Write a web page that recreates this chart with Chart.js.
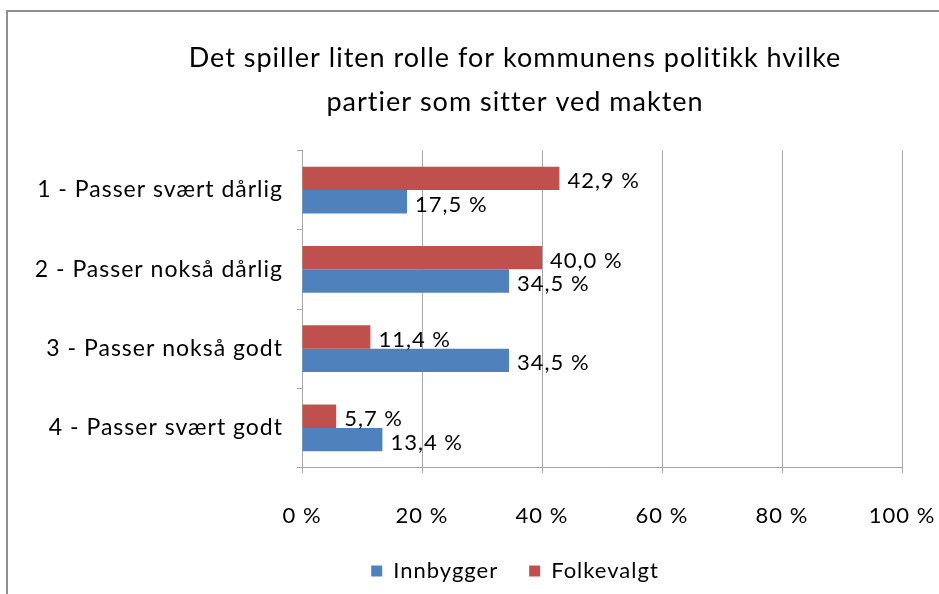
<!DOCTYPE html>
<html>
<head>
<meta charset="utf-8">
<script src="https://cdn.jsdelivr.net/npm/chart.js@4.4.1/dist/chart.umd.min.js"></script>
<style>
    html, body { margin: 0; padding: 0; background: #fff; overflow: hidden; }
    .frame {
        position: absolute;
        left: 6px;
        top: 10px;
        width: 1040px;
        height: 620px;
        border: 2px solid #8f8f8f;
    }
    .chart-box {
        position: relative;
        width: 1014px;
        height: 600px;
    }
</style>
</head>
<body>
<div class="frame">
    <div class="chart-box"><canvas id="surveyChart"></canvas></div>
</div>
<script>
// Data
const categories = ['1 - Passer svært dårlig', '2 - Passer nokså dårlig', '3 - Passer nokså godt', '4 - Passer svært godt'];
const innbygger = [17.5, 34.5, 34.5, 13.4];
const folkevalgt = [42.9, 40.0, 11.4, 5.7];
const xTicks = [0, 20, 40, 60, 80, 100];

const FONT = 'Lato, "Open Sans", sans-serif';

// Slightly wider letter spacing, like the original rendering
const spacing = {
    id: 'spacing',
    beforeLayout(chart) { chart.ctx.letterSpacing = '1px'; },
    beforeDraw(chart) { chart.ctx.letterSpacing = '1px'; }
};

// Value labels next to the bars
const valueLabels = {
    id: 'valueLabels',
    afterDatasetsDraw(chart) {
        const ctx = chart.ctx;
        ctx.save();
        ctx.font = '22px ' + FONT;
        ctx.fillStyle = '#000';
        ctx.textAlign = 'left';
        ctx.textBaseline = 'middle';
        chart.data.datasets.forEach((ds, i) => {
            chart.getDatasetMeta(i).data.forEach((bar, j) => {
                const txt = ds.data[j].toFixed(1).replace('.', ',') + ' %';
                ctx.fillText(txt, bar.x + 8, bar.y + 3);
            });
        });
        ctx.restore();
    }
};

const ctx = document.getElementById('surveyChart').getContext('2d');
const chart = new Chart(ctx, {
    type: 'bar',
    data: {
        labels: categories,
        datasets: [
            {
                label: 'Folkevalgt',
                data: folkevalgt,
                backgroundColor: '#C0504D',
                categoryPercentage: 0.59,
                barPercentage: 1.0
            },
            {
                label: 'Innbygger',
                data: innbygger,
                backgroundColor: '#4F81BD',
                categoryPercentage: 0.59,
                barPercentage: 1.0
            }
        ]
    },
    options: {
        indexAxis: 'y',
        responsive: true,
        maintainAspectRatio: false,
        animation: false,
        layout: {
            padding: { top: 0, right: 0, bottom: 20, left: 0 }
        },
        plugins: {
            title: {
                display: true,
                text: ['Det spiller liten rolle for kommunens politikk hvilke', 'partier som sitter ved makten'],
                color: '#000',
                font: { family: FONT, size: 27, weight: 'normal', lineHeight: 1.6 },
                padding: { top: 25, bottom: 27 }
            },
            legend: {
                position: 'bottom',
                reverse: true,
                labels: {
                    color: '#000',
                    font: { family: FONT, size: 22 },
                    boxWidth: 11,
                    boxHeight: 11,
                    padding: 31
                }
            },
            tooltip: { enabled: false }
        },
        scales: {
            x: {
                min: 0,
                max: 100,
                afterBuildTicks: (scale) => {
                    scale.ticks = xTicks.map(v => ({ value: v }));
                },
                ticks: {
                    color: '#000',
                    font: { family: FONT, size: 22 },
                    padding: 0,
                    callback: (v) => v + ' %'
                },
                grid: {
                    color: '#a6a6a6',
                    tickLength: 35,
                    tickBorderDash: [5, 200]
                },
                border: { color: '#a6a6a6' }
            },
            y: {
                afterFit: (scale) => { scale.width = 294; },
                ticks: {
                    color: '#000',
                    font: { family: FONT, size: 23 },
                    padding: 14
                },
                grid: {
                    drawOnChartArea: false,
                    color: '#a6a6a6',
                    tickLength: 5
                },
                border: { color: '#a6a6a6' }
            },
            // empty space on the right so the title stays centred on the whole chart
            yRight: {
                type: 'category',
                axis: 'y',
                position: 'right',
                afterFit: (scale) => { scale.width = 120; },
                ticks: { display: false },
                grid: { display: false },
                border: { display: false }
            }
        }
    },
    plugins: [spacing, valueLabels]
});
</script>
</body>
</html>
